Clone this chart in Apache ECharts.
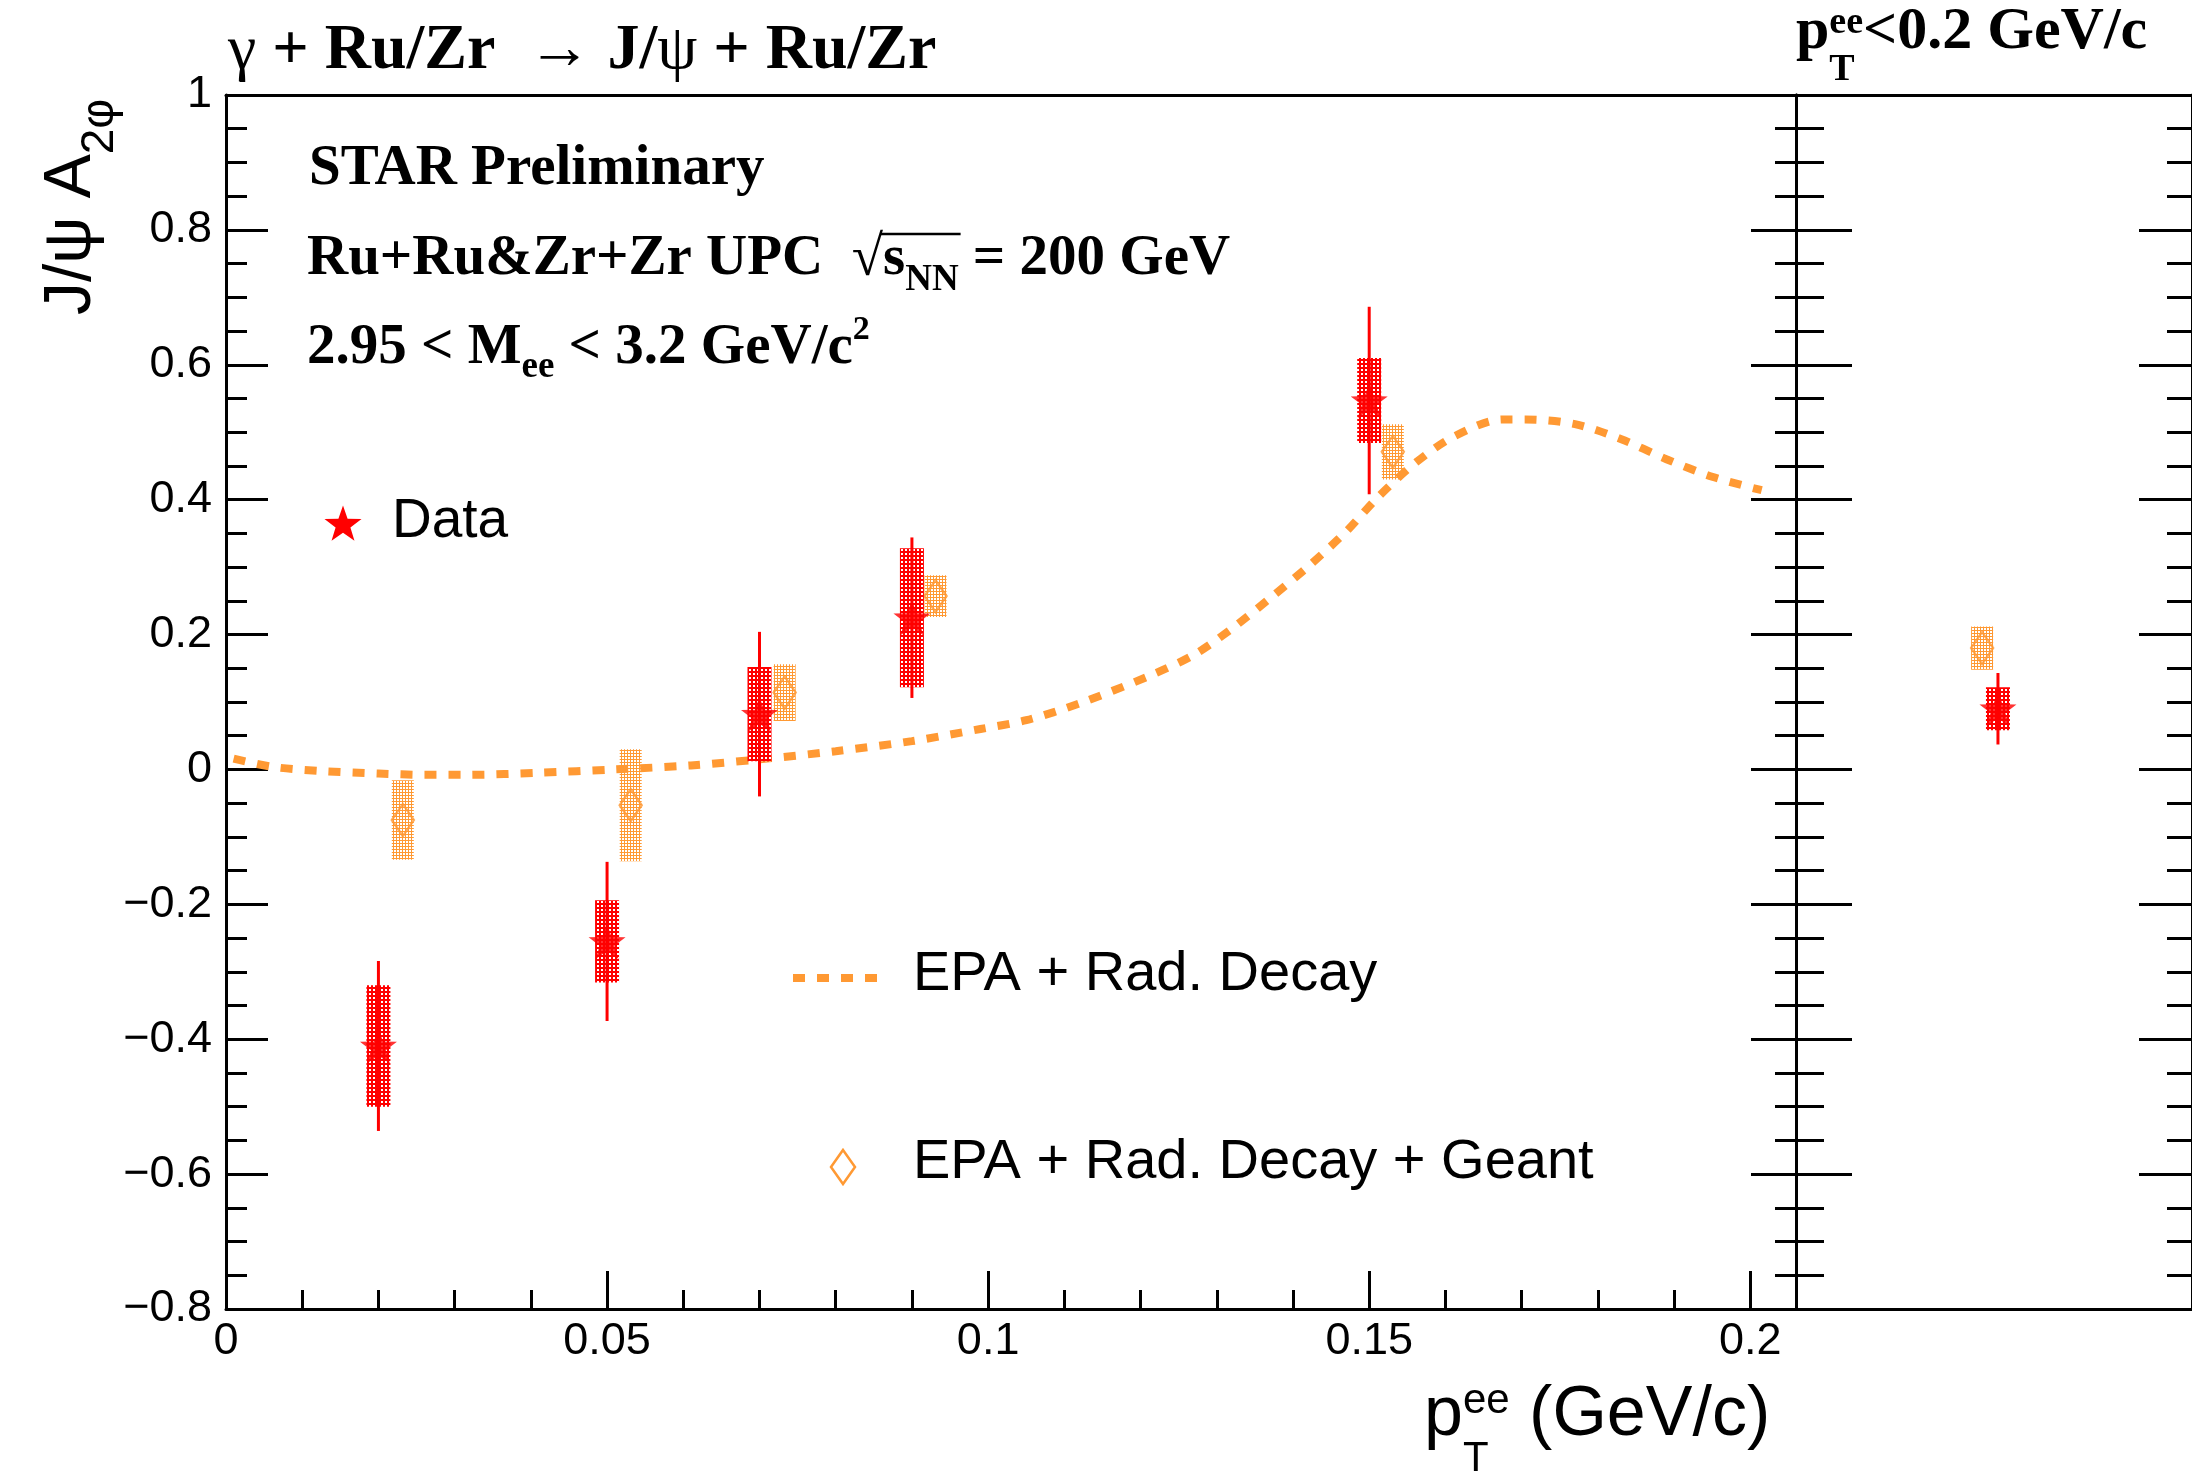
<!DOCTYPE html>
<html>
<head>
<meta charset="utf-8">
<script src="https://cdn.jsdelivr.net/npm/echarts@6/dist/echarts.min.js"></script>
<style>
  html, body { margin: 0; padding: 0; background: #fff; }
  #chart { width: 2192px; height: 1472px; }
</style>
</head>
<body>
<div id="chart"></div>
<script>
// ---- measured J/psi A_2phi versus pair pT (GeV/c) ----
const dataPt   = [0.02, 0.05, 0.07, 0.09, 0.15];
const dataVal  = [-0.41, -0.255, 0.082, 0.225, 0.547];
const dataStat = [0.126, 0.118, 0.122, 0.119, 0.139];
const dataSys  = [0.090, 0.061, 0.070, 0.103, 0.063];

// ---- EPA + radiative decay + Geant (points offset slightly in pT) ----
const geantPt  = [0.0232, 0.0531, 0.0733, 0.0931, 0.1531];
const geantVal = [-0.075, -0.053, 0.114, 0.257, 0.471];
const geantErr = [0.059, 0.083, 0.042, 0.031, 0.041];

// ---- integrated pT < 0.2 GeV/c (right panel, arbitrary horizontal slot) ----
const intDataPos  = [0.51];
const intDataVal  = [0.09];
const intDataStat = [0.053];
const intDataSys  = [0.032];
const intGeantPos = [0.47];
const intGeantVal = [0.18];
const intGeantErr = [0.032];

// ---- EPA + Rad. Decay model curve ----
const epaPt  = [0.001, 0.006, 0.012, 0.020, 0.026, 0.032, 0.041, 0.051, 0.061, 0.070,
                0.080, 0.090, 0.099, 0.105, 0.112, 0.121, 0.127, 0.132, 0.137, 0.142,
                0.147, 0.151, 0.156, 0.161, 0.1675, 0.1705, 0.177, 0.183, 0.189, 0.195, 0.2015];
const epaVal = [0.016, 0.004, -0.002, -0.006, -0.008, -0.008, -0.005, 0.000, 0.006, 0.015,
                0.027, 0.042, 0.060, 0.073, 0.098, 0.138, 0.170, 0.209, 0.254, 0.301,
                0.353, 0.402, 0.454, 0.493, 0.519, 0.519, 0.512, 0.490, 0.460, 0.434, 0.414];

// ---- axis ranges ----
const X_MIN = 0, X_MAX = 0.206, X_STEP = 0.05, X_MINOR = 0.01;
const Y_MIN = -0.8, Y_MAX = 1, Y_STEP = 0.2;

const RED = '#ff0000';
const ORANGE = '#ff9933';
const SANS = "'Liberation Sans', Arial, Helvetica, sans-serif";
const SERIF = "'Liberation Serif', 'Times New Roman', 'DejaVu Serif', serif";

// small repeating tiles for the hatched systematic boxes
function hatchTile(color, size, hole) {
  const c = document.createElement('canvas');
  c.width = c.height = size;
  const g = c.getContext('2d');
  g.fillStyle = color; g.fillRect(0, 0, size, size);
  g.fillStyle = '#ffffff'; g.fillRect(1, 1, hole, hole);
  return c;
}
const redFill = { image: hatchTile(RED, 4, 2), repeat: 'repeat' };
const orangeFill = { image: hatchTile(ORANGE, 3, 2), repeat: 'repeat' };

// five-pointed star marker
function starPoints(cx, cy, R, ratio) {
  const pts = [];
  for (let i = 0; i < 10; i++) {
    const r = i % 2 === 0 ? R : R * ratio;
    const a = -Math.PI / 2 + i * Math.PI / 5;
    pts.push([cx + r * Math.cos(a), cy + r * Math.sin(a)]);
  }
  return pts;
}
const STAR_PATH = 'path://' + starPoints(50, 50, 50, 0.4)
  .map((p, i) => (i ? 'L' : 'M') + p[0].toFixed(2) + ' ' + p[1].toFixed(2)).join(' ') + ' Z';

// systematic box of fixed pixel width
function boxItem(width, fill) {
  return function (params, api) {
    const x = api.value(0), y = api.value(1), e = api.value(2);
    const a = api.coord([x, y + e]), b = api.coord([x, y - e]);
    return { type: 'rect', shape: { x: a[0] - width / 2, y: a[1], width: width, height: b[1] - a[1] },
             style: { fill: fill } };
  };
}
// vertical statistical error bar
function barItem(params, api) {
  const x = api.value(0), y = api.value(1), e = api.value(2);
  const a = api.coord([x, y + e]), b = api.coord([x, y - e]);
  return { type: 'line', shape: { x1: a[0], y1: a[1], x2: b[0], y2: b[1] },
           style: { stroke: RED, lineWidth: 3 } };
}

const zip3 = (a, b, c) => a.map((v, i) => [v, b[i], c[i]]);
const zip2 = (a, b) => a.map((v, i) => [v, b[i]]);

// ---- text helpers: runs of text laid out on a common baseline ----
const measure = document.createElement('canvas').getContext('2d');
function textWidth(str, font) { measure.font = font; return measure.measureText(str).width; }
function textRun(x0, base, parts, family) {
  const els = [], spans = [];
  let cursor = x0, lastStart = x0;
  parts.forEach(p => {
    const fam = p.f || family;
    const font = (p.w || 'normal') + ' ' + p.s + 'px ' + fam;
    const w = textWidth(p.t, font);
    let start;
    if (p.under) { start = lastStart; cursor = Math.max(cursor, start + w); }
    else { start = cursor; lastStart = start; cursor = start + w; }
    spans.push([start, start + w]);
    els.push({
      type: 'text', x: start, y: base + (p.dy || 0) - 0.34 * p.s, z: 10, silent: true,
      style: { text: p.t, font: font, fill: '#000', textAlign: 'left',
               verticalAlign: 'middle', textVerticalAlign: 'middle' }
    });
  });
  return { els, spans };
}

const graphics = [];
// process label
graphics.push(...textRun(228, 73, [
  { t: 'γ', s: 64 }, { t: ' + Ru/Zr  ', s: 64, w: 'bold' }, { t: '→', s: 64 },
  { t: ' J/', s: 64, w: 'bold' }, { t: 'ψ', s: 64 }, { t: ' + Ru/Zr', s: 64, w: 'bold' }
], SERIF).els);
// pT selection of the right panel
graphics.push(...textRun(1796, 53, [
  { t: 'p', s: 60, w: 'bold' }, { t: 'ee', s: 38, dy: -17, w: 'bold' },
  { t: 'T', s: 38, dy: 30, w: 'bold', under: true }, { t: '<0.2 GeV/c', s: 60, w: 'bold' }
], SERIF).els);
graphics.push(...textRun(309, 189, [{ t: 'STAR Preliminary', s: 57, w: 'bold' }], SERIF).els);
const sys = textRun(307, 279, [
  { t: 'Ru+Ru&Zr+Zr UPC  ', s: 57, w: 'bold' }, { t: '√', s: 57 }, { t: 's', s: 57, w: 'bold' },
  { t: 'NN', s: 37, dy: 14, w: 'bold' }, { t: ' = 200 GeV', s: 57, w: 'bold' }
], SERIF);
graphics.push(...sys.els);
graphics.push({ type: 'line', z: 10, silent: true,
  shape: { x1: sys.spans[1][1] - 3, y1: 279 - 0.79 * 57, x2: sys.spans[3][1] + 2, y2: 279 - 0.79 * 57 },
  style: { stroke: '#000', lineWidth: 2.5 } });
graphics.push(...textRun(307, 368, [
  { t: '2.95 < M', s: 57, w: 'bold' }, { t: 'ee', s: 37, dy: 12, w: 'bold' },
  { t: ' < 3.2 GeV/c', s: 57, w: 'bold' }, { t: '2', s: 34, dy: -26, w: 'bold' }
], SERIF).els);

// axis titles
graphics.push(...textRun(1424, 1440, [
  { t: 'p', s: 70 }, { t: 'ee', s: 42, dy: -24 }, { t: 'T', s: 42, dy: 34, under: true },
  { t: ' (GeV/c)', s: 70 }
], SANS).els);
graphics.push({ type: 'group', x: 94, y: 315, rotation: Math.PI / 2, silent: true,
  children: textRun(0, 0, [{ t: 'J/ψ A', s: 66 }, { t: '2φ', s: 46, dy: 22 }], SANS).els });

// legend
graphics.push({ type: 'polygon', z: 10, silent: true, shape: { points: starPoints(343, 525, 19.5, 0.4) },
  style: { fill: RED } });
graphics.push(...textRun(392, 541, [{ t: 'Data', s: 55 }], SANS).els);
graphics.push({ type: 'line', z: 10, silent: true, shape: { x1: 793, y1: 978, x2: 880, y2: 978 },
  style: { stroke: ORANGE, lineWidth: 8, lineDash: [12, 12] } });
graphics.push(...textRun(913, 994, [{ t: 'EPA + Rad. Decay', s: 56 }], SANS).els);
graphics.push({ type: 'polygon', z: 10, silent: true,
  shape: { points: [[843, 1150], [855, 1167], [843, 1184], [831, 1167]] },
  style: { fill: 'rgba(0,0,0,0)', stroke: ORANGE, lineWidth: 2.5 } });
graphics.push(...textRun(913, 1182, [{ t: 'EPA + Rad. Decay + Geant', s: 56 }], SANS).els);

// ---- axes ----
const frame = { color: '#000', width: 3 };
const noLabel = { show: false };
const noSplit = { show: false };
const num = v => String(+Math.abs(v).toFixed(3));

function xAxisBase(grid, min, max, showLine) {
  return { gridIndex: grid, type: 'value', min: min, max: max, splitLine: noSplit,
           axisLine: { show: showLine, onZero: false, lineStyle: frame } };
}
function yAxisSide(grid, pos, major, minor, labels) {
  return {
    gridIndex: grid, type: 'value', position: pos, min: Y_MIN, max: Y_MAX, interval: Y_STEP,
    splitLine: noSplit,
    axisLine: { show: true, onZero: false, lineStyle: frame },
    axisTick: { show: true, inside: true, length: major, lineStyle: frame },
    minorTick: { show: true, splitNumber: 4, length: minor, lineStyle: frame },
    axisLabel: labels ? {
      show: true, margin: 14, fontSize: 45, fontFamily: SANS, color: '#000',
      formatter: v => (v < -1e-9 ? '\u2212' : '') + num(v)
    } : noLabel
  };
}

const option = {
  animation: false,
  backgroundColor: '#ffffff',
  grid: [
    { left: 226, top: 95, width: 1570, height: 1214, show: false },
    { left: 1796, top: 95, width: 398, height: 1214, show: false }
  ],
  xAxis: [
    Object.assign(xAxisBase(0, X_MIN, X_MAX, true), {
      position: 'bottom', interval: X_STEP,
      axisTick: { show: true, inside: true, length: 38, lineStyle: frame },
      axisLabel: { show: true, margin: 10, fontSize: 45, fontFamily: SANS, color: '#000', showMaxLabel: false,
        formatter: v => (Math.abs(v / X_STEP - Math.round(v / X_STEP)) < 1e-6 ? num(v) : '') }
    }),
    Object.assign(xAxisBase(0, X_MIN, X_MAX, false), {
      position: 'bottom', interval: X_MINOR,
      axisTick: { show: true, inside: true, length: 19, lineStyle: frame }, axisLabel: noLabel
    }),
    Object.assign(xAxisBase(0, X_MIN, X_MAX, true), { position: 'top', axisTick: { show: false }, axisLabel: noLabel }),
    Object.assign(xAxisBase(1, 0, 1, true), { position: 'bottom', axisTick: { show: false }, axisLabel: noLabel }),
    Object.assign(xAxisBase(1, 0, 1, true), { position: 'top', axisTick: { show: false }, axisLabel: noLabel })
  ],
  yAxis: [
    yAxisSide(0, 'left', 42, 21, true),
    yAxisSide(0, 'right', 45, 21, false),
    yAxisSide(1, 'left', 56, 28, false),
    yAxisSide(1, 'right', 53, 25, false)
  ],
  graphic: graphics,
  series: [
    { name: 'EPA + Rad. Decay + Geant sys', type: 'custom', xAxisIndex: 0, yAxisIndex: 0, z: 2,
      renderItem: boxItem(22, orangeFill), encode: { x: 0, y: 1 },
      data: zip3(geantPt, geantVal, geantErr) },
    { name: 'EPA + Rad. Decay + Geant sys (int)', type: 'custom', xAxisIndex: 3, yAxisIndex: 2, z: 2,
      renderItem: boxItem(22, orangeFill), encode: { x: 0, y: 1 },
      data: zip3(intGeantPos, intGeantVal, intGeantErr) },
    { name: 'EPA + Rad. Decay + Geant', type: 'scatter', xAxisIndex: 0, yAxisIndex: 0, z: 3,
      symbol: 'diamond', symbolSize: [22, 32],
      itemStyle: { color: 'rgba(0,0,0,0)', borderColor: ORANGE, borderWidth: 2.5 },
      data: zip2(geantPt, geantVal) },
    { name: 'EPA + Rad. Decay + Geant (int)', type: 'scatter', xAxisIndex: 3, yAxisIndex: 2, z: 3,
      symbol: 'diamond', symbolSize: [22, 32],
      itemStyle: { color: 'rgba(0,0,0,0)', borderColor: ORANGE, borderWidth: 2.5 },
      data: zip2(intGeantPos, intGeantVal) },
    { name: 'EPA + Rad. Decay', type: 'line', xAxisIndex: 0, yAxisIndex: 0, z: 4,
      smooth: 0.3, showSymbol: false, symbol: 'none',
      lineStyle: { color: ORANGE, width: 8, type: [12, 12], cap: 'butt' },
      data: zip2(epaPt, epaVal) },
    { name: 'Data sys', type: 'custom', xAxisIndex: 0, yAxisIndex: 0, z: 5,
      renderItem: boxItem(24, redFill), encode: { x: 0, y: 1 },
      data: zip3(dataPt, dataVal, dataSys) },
    { name: 'Data sys (int)', type: 'custom', xAxisIndex: 3, yAxisIndex: 2, z: 5,
      renderItem: boxItem(24, redFill), encode: { x: 0, y: 1 },
      data: zip3(intDataPos, intDataVal, intDataSys) },
    { name: 'Data stat', type: 'custom', xAxisIndex: 0, yAxisIndex: 0, z: 6,
      renderItem: barItem, encode: { x: 0, y: 1 },
      data: zip3(dataPt, dataVal, dataStat) },
    { name: 'Data stat (int)', type: 'custom', xAxisIndex: 3, yAxisIndex: 2, z: 6,
      renderItem: barItem, encode: { x: 0, y: 1 },
      data: zip3(intDataPos, intDataVal, intDataStat) },
    { name: 'Data', type: 'scatter', xAxisIndex: 0, yAxisIndex: 0, z: 7,
      symbol: STAR_PATH, symbolSize: [37, 35], itemStyle: { color: RED },
      data: zip2(dataPt, dataVal) },
    { name: 'Data (int)', type: 'scatter', xAxisIndex: 3, yAxisIndex: 2, z: 7,
      symbol: STAR_PATH, symbolSize: [37, 35], itemStyle: { color: RED },
      data: zip2(intDataPos, intDataVal) }
  ]
};

const chart = echarts.init(document.getElementById('chart'), null, { renderer: 'canvas' });
chart.setOption(option);
</script>
</body>
</html>
